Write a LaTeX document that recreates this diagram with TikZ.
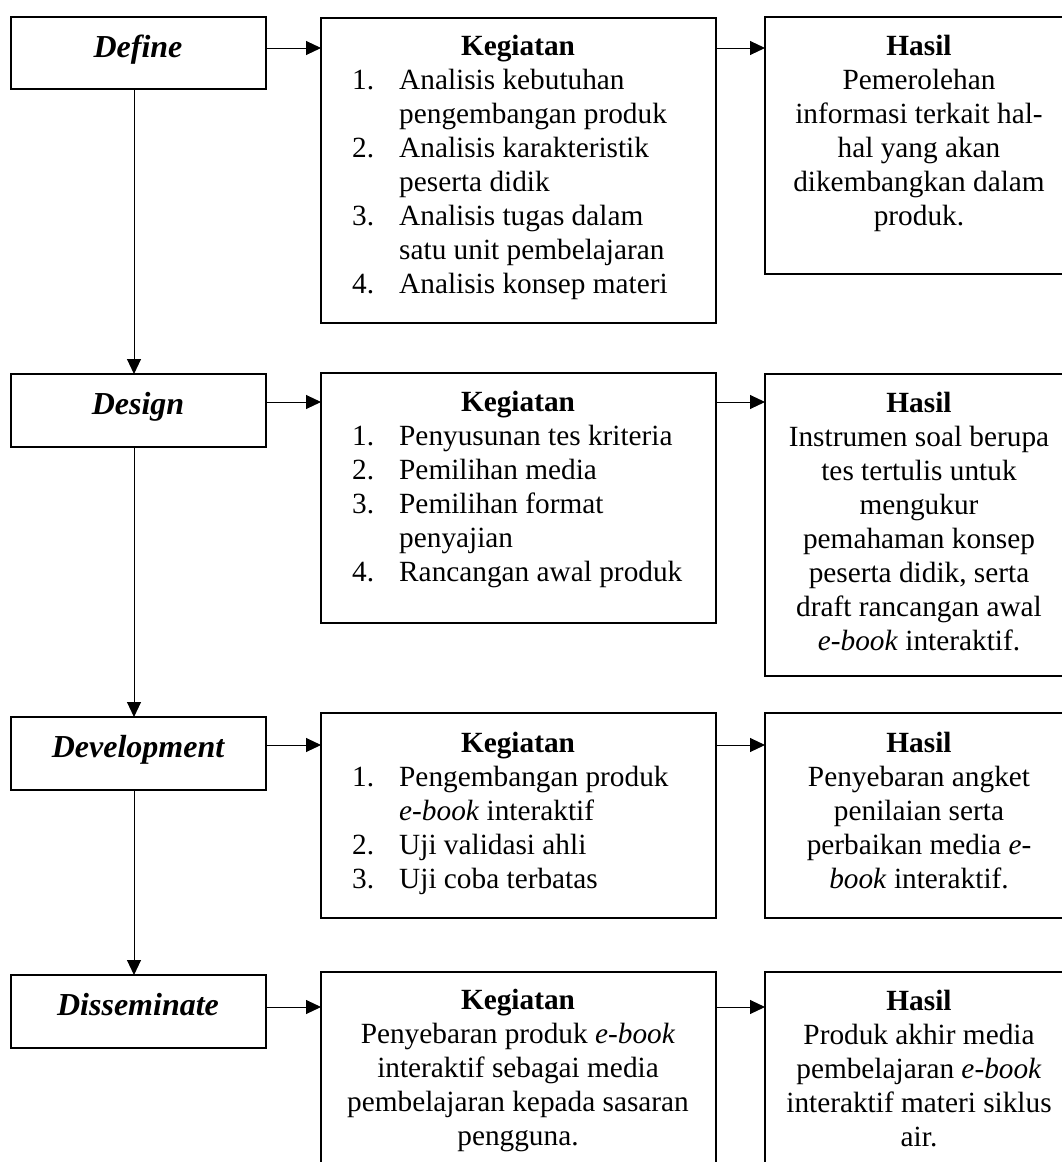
\documentclass[tikz,border=0pt]{standalone}
\usepackage{fontspec}
\setmainfont{Liberation Serif}
\usetikzlibrary{arrows.meta}
\newcommand\bodyfnt{\fontsize{29.3}{34}\selectfont}
\newcommand\titlefnt{\fontsize{32}{38}\selectfont\bfseries\itshape}
\newcommand\numitem[1]{\makebox[47pt][l]{#1}}
\begin{document}
\begin{tikzpicture}[x=1pt,y=-1pt,
  boxnode/.style={draw, line width=1.3pt, rectangle, inner sep=0pt, outer sep=0pt, anchor=north west},
  arr/.style={line width=1pt, -{Triangle[length=15pt,width=14pt]}},
  ttl/.style={anchor=base, inner sep=0pt, font=\titlefnt},
  txt/.style={anchor=base west, inner sep=0pt, font=\bodyfnt},
  ctxt/.style={anchor=base, inner sep=0pt, font=\bodyfnt}]
\useasboundingbox (0,0) rectangle (1062,1162);
\clip (0,0) rectangle (1062,1162);
\fill[white] (0,0) rectangle (1062,1162);

% stage boxes
\node[boxnode, minimum width=255pt, minimum height=72pt] (def) at (11,17) {};
\node[boxnode, minimum width=255pt, minimum height=73pt] (des) at (11,374) {};
\node[boxnode, minimum width=255pt, minimum height=73pt] (dev) at (11,717) {};
\node[boxnode, minimum width=255pt, minimum height=73pt] (dis) at (11,975) {};

% kegiatan boxes
\node[boxnode, minimum width=395pt, minimum height=305pt] (k1) at (321,18) {};
\node[boxnode, minimum width=395pt, minimum height=250pt] (k2) at (321,373) {};
\node[boxnode, minimum width=395pt, minimum height=205pt] (k3) at (321,713) {};
\node[boxnode, minimum width=395pt, minimum height=230pt] (k4) at (321,972) {};

% hasil boxes
\node[boxnode, minimum width=308pt, minimum height=257pt] (h1) at (765,17) {};
\node[boxnode, minimum width=308pt, minimum height=302pt] (h2) at (765,374) {};
\node[boxnode, minimum width=308pt, minimum height=205pt] (h3) at (765,713) {};
\node[boxnode, minimum width=308pt, minimum height=230pt] (h4) at (765,972) {};

% stage titles
\node[ttl] (deft) at (138,57) {Define};
\node[ttl] (dest) at (138,414) {Design};
\node[ttl] (devt) at (138,757) {Development};
\node[ttl] (dist) at (138,1015) {Disseminate};

% kegiatan texts
\node[ctxt, font=\bodyfnt\bfseries] (k1h) at (518,55) {Kegiatan};
\node[txt] (k1l) at (352,89) {\begin{tabular}[t]{@{}l@{}l@{}}
\numitem{1.} & Analisis kebutuhan\\
 & pengembangan produk\\
\numitem{2.} & Analisis karakteristik\\
 & peserta didik\\
\numitem{3.} & Analisis tugas dalam\\
 & satu unit pembelajaran\\
\numitem{4.} & Analisis konsep materi
\end{tabular}};

\node[ctxt, font=\bodyfnt\bfseries] (k2h) at (518,411) {Kegiatan};
\node[txt] (k2l) at (352,445) {\begin{tabular}[t]{@{}l@{}l@{}}
\numitem{1.} & Penyusunan tes kriteria\\
\numitem{2.} & Pemilihan media\\
\numitem{3.} & Pemilihan format\\
 & penyajian\\
\numitem{4.} & Rancangan awal produk
\end{tabular}};

\node[ctxt, font=\bodyfnt\bfseries] (k3h) at (518,752) {Kegiatan};
\node[txt] (k3l) at (352,786) {\begin{tabular}[t]{@{}l@{}l@{}}
\numitem{1.} & Pengembangan produk\\
 & \textit{e-book} interaktif\\
\numitem{2.} & Uji validasi ahli\\
\numitem{3.} & Uji coba terbatas
\end{tabular}};

\node[ctxt] (k4l) at (518,1009) {\begin{tabular}[t]{@{}c@{}}
\textbf{Kegiatan}\\
Penyebaran produk \textit{e-book}\\
interaktif sebagai media\\
pembelajaran kepada sasaran\\
pengguna.
\end{tabular}};

% hasil texts
\node[ctxt] (h1l) at (919,55) {\begin{tabular}[t]{@{}c@{}}
\textbf{Hasil}\\
Pemerolehan\\
informasi terkait hal-\\
hal yang akan\\
dikembangkan dalam\\
produk.
\end{tabular}};

\node[ctxt] (h2l) at (919,412) {\begin{tabular}[t]{@{}c@{}}
\textbf{Hasil}\\
Instrumen soal berupa\\
tes tertulis untuk\\
mengukur\\
pemahaman konsep\\
peserta didik, serta\\
draft rancangan awal\\
\textit{e-book} interaktif.
\end{tabular}};

\node[ctxt] (h3l) at (919,752) {\begin{tabular}[t]{@{}c@{}}
\textbf{Hasil}\\
Penyebaran angket\\
penilaian serta\\
perbaikan media \textit{e-}\\
\textit{book} interaktif.
\end{tabular}};

\node[ctxt] (h4l) at (919,1010) {\begin{tabular}[t]{@{}c@{}}
\textbf{Hasil}\\
Produk akhir media\\
pembelajaran \textit{e-book}\\
interaktif materi siklus\\
air.
\end{tabular}};

% row levels and spine
\coordinate (r1) at (0,48);
\coordinate (r2) at (0,402);
\coordinate (r3) at (0,745);
\coordinate (r4) at (0,1007);
\coordinate (sp) at (134,0);

% horizontal arrows
\draw[arr] (def.east |- r1) -- (k1.west |- r1);
\draw[arr] (k1.east |- r1) -- (h1.west |- r1);
\draw[arr] (des.east |- r2) -- (k2.west |- r2);
\draw[arr] (k2.east |- r2) -- (h2.west |- r2);
\draw[arr] (dev.east |- r3) -- (k3.west |- r3);
\draw[arr] (k3.east |- r3) -- (h3.west |- r3);
\draw[arr] (dis.east |- r4) -- (k4.west |- r4);
\draw[arr] (k4.east |- r4) -- (h4.west |- r4);

% vertical arrows
\draw[arr] (def.south -| sp) -- (des.north -| sp);
\draw[arr] (des.south -| sp) -- (dev.north -| sp);
\draw[arr] (dev.south -| sp) -- (dis.north -| sp);
\end{tikzpicture}
\end{document}
